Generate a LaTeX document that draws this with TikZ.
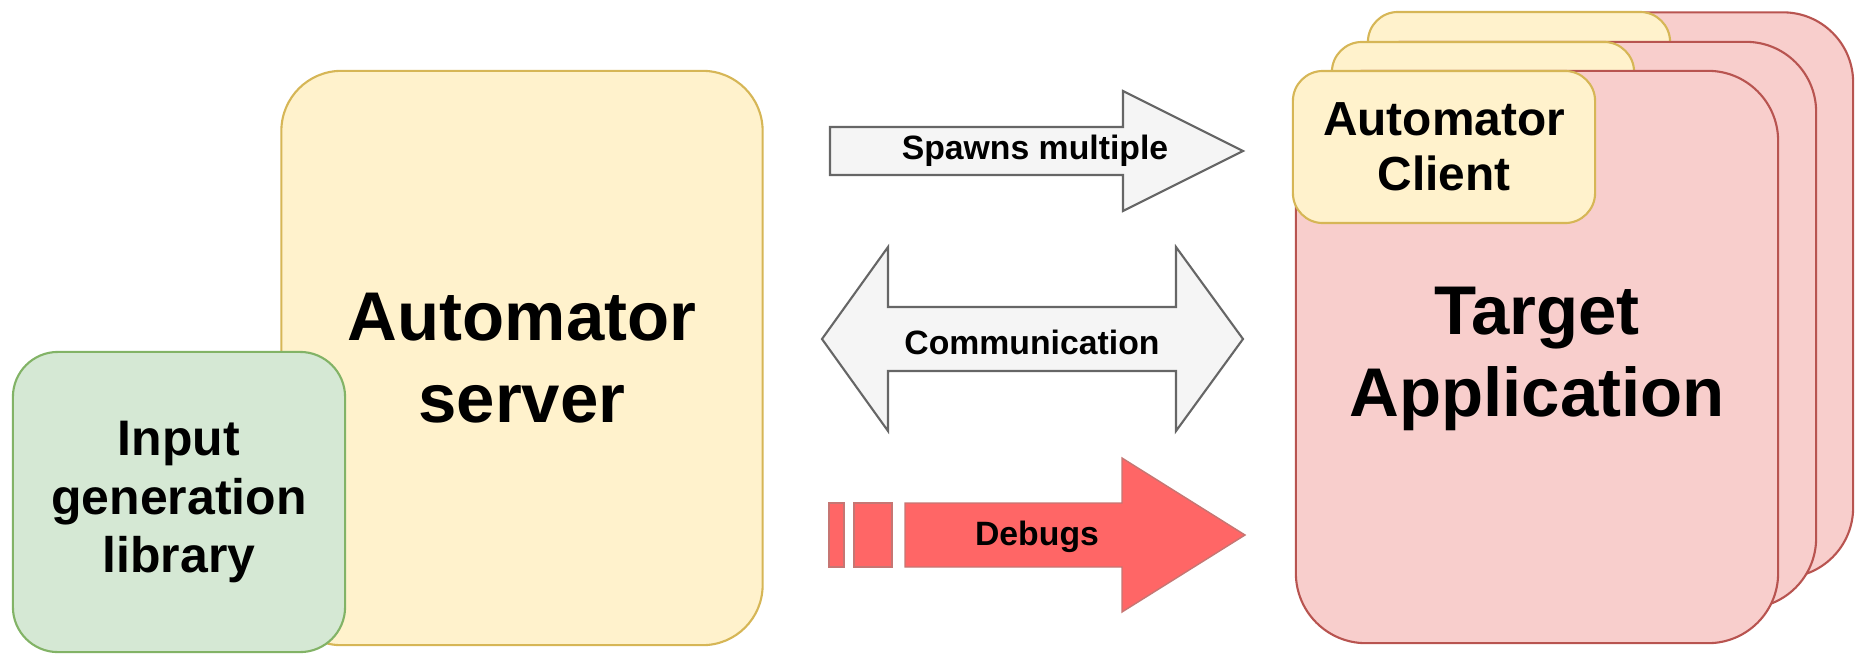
\documentclass[tikz,border=0pt]{standalone}
\usepackage{fontspec}
\setmainfont{Liberation Sans}
\usetikzlibrary{positioning,calc}
\definecolor{yellowfill}{HTML}{FFF2CC}
\definecolor{yellowline}{HTML}{D6B656}
\definecolor{greenfill}{HTML}{D5E8D4}
\definecolor{greenline}{HTML}{82B366}
\definecolor{pinkfill}{HTML}{F8CECC}
\definecolor{pinkline}{HTML}{B85450}
\definecolor{greyfill}{HTML}{F5F5F5}
\definecolor{greyline}{HTML}{666666}
\definecolor{redfill}{HTML}{FF6666}

\begin{document}
\begin{tikzpicture}[
    x=0.01cm, y=0.01cm,
    every node/.style={font=\bfseries},
    server/.style={rectangle, draw=yellowline, fill=yellowfill, line width=0.6pt, rounded corners=0.6cm, minimum width=4.81cm, minimum height=5.74cm, align=center, font=\fontsize{19.6}{23.5}\selectfont\bfseries},
    inputlib/.style={rectangle, draw=greenline, fill=greenfill, line width=0.6pt, rounded corners=0.45cm, minimum width=3.32cm, minimum height=3cm, align=center, font=\fontsize{14.2}{16.6}\selectfont\bfseries},
    target/.style={rectangle, draw=pinkline, fill=pinkfill, line width=0.6pt, rounded corners=0.7cm, minimum width=4.82cm},
    client/.style={rectangle, draw=yellowline, fill=yellowfill, line width=0.6pt, rounded corners=0.3cm, minimum width=3.02cm, minimum height=1.52cm, align=center, font=\fontsize{13.6}{15.7}\selectfont\bfseries},
    greyarrow/.style={draw=greyline, fill=greyfill, line width=0.6pt},
    redarrow/.style={draw=pinkline!80, fill=redfill, line width=0.4pt},
    label/.style={font=\fontsize{9.6}{11}\selectfont\bfseries, inner sep=0pt}
]
    \useasboundingbox (0,0) rectangle (1856,653);

    % Nodes
    \node[server] (server) at (522,295) {Automator\\server};
    \node[inputlib] (lib) at (179,151) {Input\\generation\\library};

    \node[target, minimum height=5.65cm] (app3) at (1612,358) {};
    \node[client] (client3) at (1519,565) {};
    \node[target, minimum height=5.66cm] (app2) at (1575,328) {};
    \node[client] (client2) at (1483,535) {};
    \node[target, minimum height=5.72cm] (app1) at (1537,296) {};
    \node[client] (client1) at (1444,506) {Automator\\Client};
    \node[font=\fontsize{19.6}{23.5}\selectfont\bfseries, align=center] (apptext) at (1537,294) {Target\\Application};

    % Arrows
    \draw[greyarrow] (830,526) -- (1123,526) -- (1123,562) -- (1243,502) -- (1123,442) -- (1123,478) -- (830,478) -- cycle;
    \node[label] (spawn) at (1035,502) {Spawns multiple};

    \draw[greyarrow] (822,314) -- (888,406) -- (888,346) -- (1176,346) -- (1176,406) -- (1243,314)
        -- (1176,222) -- (1176,282) -- (888,282) -- (888,222) -- cycle;
    \node[label] (comm) at (1032,311) {Communication};

    \draw[redarrow] (829,86) rectangle (844,150);
    \draw[redarrow] (854,86) rectangle (892,150);
    \draw[redarrow] (905,86) -- (1122,86) -- (1122,41) -- (1245,118) -- (1122,195) -- (1122,150) -- (905,150) -- cycle;
    \node[label] (debug) at (1037,116) {Debugs};
\end{tikzpicture}
\end{document}
